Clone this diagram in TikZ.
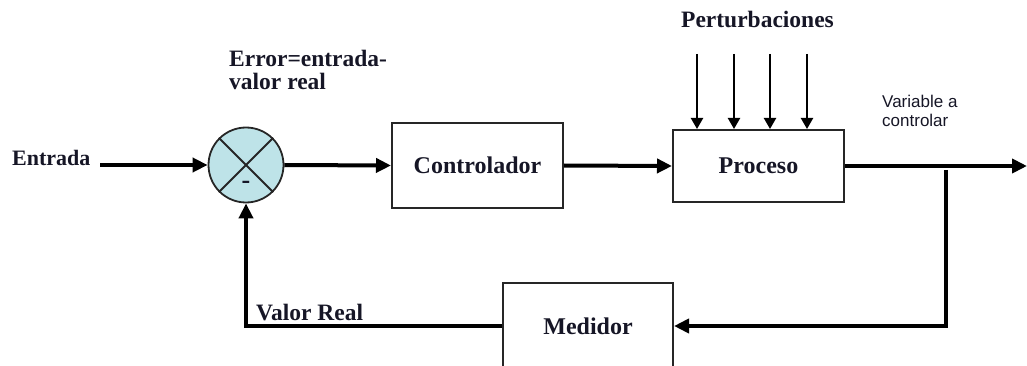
\documentclass[tikz,border=0pt]{standalone}
\usepackage{fontspec}
\setmainfont{Liberation Serif}
\newfontfamily\labelsans{Liberation Sans}
\usetikzlibrary{arrows.meta}
\definecolor{sumfill}{RGB}{190,227,232}
\definecolor{ink}{RGB}{22,22,38}
\tikzset{
  blk/.style={draw=black!85, line width=2pt, rectangle, inner sep=0pt,
    font=\fontsize{24}{26}\selectfont\bfseries, text=ink},
  lbl/.style={inner sep=0pt, font=\fontsize{23.5}{23}\selectfont\bfseries, text=ink},
  sig/.style={line width=4pt, -{Triangle[length=15pt,width=14pt]}},
  dist/.style={line width=2.2pt, -{Triangle[length=11pt,width=12pt]}},
}
\begin{document}
\begin{tikzpicture}[x=1pt,y=-1pt]
\useasboundingbox (0,0) rectangle (1027,366);
\clip (0,0) rectangle (1027,366);

% summing junction
\node[circle, draw=black!85, line width=1.8pt, fill=sumfill, minimum size=75pt, inner sep=0pt] (sum) at (246,165) {};
\draw[line width=1.8pt, black!85] (sum.north west) -- (sum.south east) (sum.north east) -- (sum.south west);
\node[inner sep=0pt, font=\fontsize{26}{26}\selectfont\bfseries, text=ink] (minus) at (246,185) {-};

% blocks
\node[blk, minimum width=171pt, minimum height=85pt] (ctrl) at (477.5,165.5) {Controlador};
\node[blk, minimum width=171pt, minimum height=72pt] (proc) at (758.5,166) {Proceso};
\node[blk, minimum width=170pt, minimum height=86pt] (med) at (588,326) {Medidor};

% labels
\node[lbl, anchor=base west, font=\fontsize{22}{22}\selectfont\bfseries] (ent) at (12,166) {Entrada};
\node[lbl, anchor=base west, align=left] (err) at (229,90) {Error=entrada-\\valor real};
\node[lbl, anchor=base] (pert) at (757.5,28) {Perturbaciones};
\node[lbl, anchor=base west] (vr) at (256,320) {Valor Real};
\node[inner sep=0pt, anchor=base west, align=left, text=ink,
      font=\labelsans\fontsize{17}{19}\selectfont] (var) at (882,127) {Variable a\\controlar};

% forward path
\coordinate (inA) at (100,165);
\coordinate (outA) at (1027,166);
\draw[sig] (inA) -- (sum.west);
\draw[sig] (sum.east) -- (ctrl.west);
\draw[sig] (ctrl.east) -- (proc.west);
\draw[sig] (proc.east) -- (outA);

% disturbances
\foreach \i/\x in {1/697,2/734,3/770,4/807}{
  \coordinate (d\i) at (\x,54);
  \draw[dist] (d\i) -- (d\i |- proc.north);
}

% feedback path
\coordinate (tap) at (946,170);
\draw[sig] (tap) |- (med.east);
\draw[sig] (med.west) -| (sum.south);
\end{tikzpicture}
\end{document}
